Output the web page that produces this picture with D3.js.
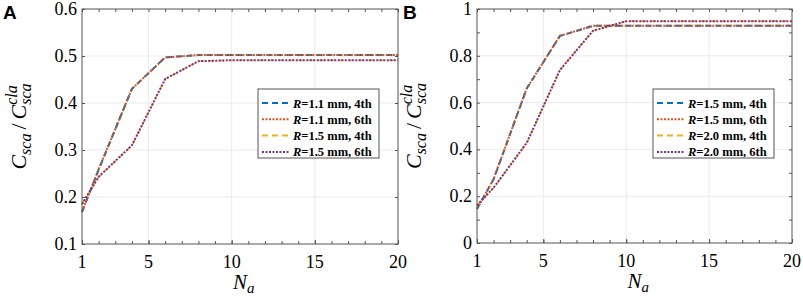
<!DOCTYPE html>
<head>
  <meta charset="utf-8">
  <script src="https://cdn.jsdelivr.net/npm/d3@7/dist/d3.min.js"></script>
  <style>
    body { margin: 0; background: #fff; }
    svg { display: block; }
    .serif { font-family: "Liberation Serif", "Times New Roman", serif; }
    .sans { font-family: "Liberation Sans", Arial, sans-serif; }
  </style>
</head>
<body>
<script>
// sample points (number of atoms N_a)
const n_atoms = [1, 2, 4, 6, 8, 10, 12, 14, 16, 18, 20]

// panel A
const a_r11_4th = [0.168, 0.258, 0.430, 0.497, 0.502, 0.502, 0.502, 0.502, 0.502, 0.502, 0.502]
const a_r11_6th = [0.169, 0.259, 0.430, 0.497, 0.502, 0.502, 0.502, 0.502, 0.502, 0.502, 0.502]
const a_r15_4th = [0.184, 0.243, 0.309, 0.451, 0.489, 0.491, 0.491, 0.491, 0.491, 0.491, 0.491]
const a_r15_6th = [0.185, 0.243, 0.310, 0.451, 0.489, 0.491, 0.491, 0.491, 0.491, 0.491, 0.491]
const a_labels = ['1.1 mm, 4th', '1.1 mm, 6th', '1.5 mm, 4th', '1.5 mm, 6th']

// panel B
const b_r15_4th = [0.145, 0.272, 0.660, 0.885, 0.928, 0.928, 0.928, 0.928, 0.928, 0.928, 0.928]
const b_r15_6th = [0.146, 0.273, 0.661, 0.885, 0.928, 0.928, 0.928, 0.928, 0.928, 0.928, 0.928]
const b_r20_4th = [0.160, 0.236, 0.427, 0.739, 0.907, 0.948, 0.948, 0.948, 0.948, 0.948, 0.948]
const b_r20_6th = [0.161, 0.236, 0.428, 0.739, 0.907, 0.948, 0.948, 0.948, 0.948, 0.948, 0.948]
const b_labels = ['1.5 mm, 4th', '1.5 mm, 6th', '2.0 mm, 4th', '2.0 mm, 6th']

const x_ticks = [1, 5, 10, 15, 20]
const a_y_ticks = [0.1, 0.2, 0.3, 0.4, 0.5, 0.6]
const b_y_ticks = [0, 0.2, 0.4, 0.6, 0.8, 1]

const colors = ['#0072BD', '#D95319', '#EDB120', '#7E2F8E']
const dashes = ['6,4', '2,1.5', '6,4', '2,1.5']
const widths = [2, 2, 1.6, 2]

const W = 803, H = 301
const svg = d3.select('body').append('svg').attr('width', W).attr('height', H)

function panel({ left, right, top, bottom, ydomain, yticks, yminor, yfmt, series, labels, letter, letter_x, legend_x }) {
  const x = d3.scaleLinear().domain([1, 20]).range([left, right])
  const y = d3.scaleLinear().domain(ydomain).range([bottom, top])
  const g = svg.append('g')

  // grid
  g.append('g').selectAll('line').data(x_ticks.slice(1, -1)).join('line')
    .attr('x1', d => x(d)).attr('x2', d => x(d)).attr('y1', top).attr('y2', bottom)
    .attr('stroke', '#e6e6e6').attr('stroke-width', 0.8)
  g.append('g').selectAll('line').data(yticks.slice(1, -1)).join('line')
    .attr('y1', d => y(d)).attr('y2', d => y(d)).attr('x1', left).attr('x2', right)
    .attr('stroke', '#e6e6e6').attr('stroke-width', 0.8)

  // axes, ticks inward on all sides
  const tick_style = a => a.call(s => s.select('.domain').remove())
    .call(s => s.selectAll('.tick line').attr('stroke', '#555'))
  const minor_x = d3.range(1, 21)
  g.append('g').attr('transform', `translate(0,${bottom})`)
    .call(d3.axisTop(x).tickValues(minor_x).tickSize(3).tickFormat(''))
    .call(tick_style)
  g.append('g').attr('transform', `translate(0,${top})`)
    .call(d3.axisBottom(x).tickValues(minor_x).tickSize(3).tickFormat(''))
    .call(tick_style)
  g.append('g').attr('transform', `translate(0,${bottom})`)
    .call(d3.axisTop(x).tickValues(x_ticks).tickSize(4).tickFormat(''))
    .call(tick_style)
  g.append('g').attr('transform', `translate(${left},0)`)
    .call(d3.axisRight(y).tickValues(yminor).tickSize(3).tickFormat(''))
    .call(tick_style)
  g.append('g').attr('transform', `translate(${right},0)`)
    .call(d3.axisLeft(y).tickValues(yminor).tickSize(3).tickFormat(''))
    .call(tick_style)

  // tick labels
  g.append('g').selectAll('text').data(x_ticks).join('text')
    .attr('class', 'serif')
    .attr('x', d => x(d)).attr('y', bottom + 24)
    .attr('text-anchor', 'middle').attr('font-size', 18)
    .text(d => d)
  g.append('g').selectAll('text').data(yticks).join('text')
    .attr('class', 'serif')
    .attr('x', left - 5).attr('y', d => y(d) + 6)
    .attr('text-anchor', 'end').attr('font-size', 18)
    .text(yfmt)

  // series
  const line = d3.line().x((d, i) => x(n_atoms[i])).y(d => y(d))
  series.forEach((s, i) => {
    g.append('path').datum(s).attr('d', line)
      .attr('fill', 'none').attr('stroke', colors[i]).attr('stroke-width', widths[i])
      .attr('stroke-dasharray', dashes[i])
  })

  // box
  g.append('rect').attr('x', left).attr('y', top).attr('width', right - left).attr('height', bottom - top)
    .attr('fill', 'none').attr('stroke', '#555').attr('stroke-width', 1)

  // legend
  const lg = g.append('g').attr('transform', `translate(${legend_x},89)`)
  lg.append('rect').attr('width', 121).attr('height', 69)
    .attr('fill', '#fff').attr('stroke', '#555').attr('stroke-width', 1)
  labels.forEach((lab, i) => {
    const ly = 14 + i * 16.3
    lg.append('line').attr('x1', 4).attr('x2', 32).attr('y1', ly).attr('y2', ly)
      .attr('stroke', colors[i]).attr('stroke-width', 2).attr('stroke-dasharray', dashes[i])
    const t = lg.append('text').attr('class', 'serif').attr('x', 35).attr('y', ly + 4.5)
      .attr('font-size', 12.5).attr('font-weight', 'bold')
    t.append('tspan').attr('font-style', 'italic').text('R')
    t.append('tspan').text('=' + lab)
  })

  // x title
  const xt = g.append('text').attr('class', 'serif').attr('x', (left + right) / 2 - 7).attr('y', bottom + 45)
    .attr('font-size', 21).attr('font-style', 'italic')
  xt.append('tspan').text('N')
  xt.append('tspan').attr('font-size', 15).attr('dy', 4).text('a')

  // y title, built piece by piece in a rotated group
  const yt = g.append('g').attr('transform', `translate(${left - 56},${(top + bottom) / 2}) rotate(-90)`)
  const parts = []
  let cx = 0
  const piece = (txt, size, dy, italic = true, advance = true) => {
    const t = yt.append('text').attr('class', 'serif').attr('x', cx).attr('y', dy)
      .attr('font-size', size)
      .attr('font-style', italic ? 'italic' : 'normal').text(txt)
    parts.push(t)
    const w = t.node().getComputedTextLength()
    if (advance) cx += w
    return w
  }
  piece('C', 22, 0)
  piece('sca', 16, 5)
  cx += 4
  piece('/', 22, 0, false)
  cx += 4
  piece('C', 22, 0)
  const sub_x = cx
  piece('cla', 16, -9, true, false)
  cx = sub_x
  piece('sca', 16, 5)
  parts.forEach(t => t.attr('x', +t.attr('x') - cx / 2))

  // panel letter
  svg.append('text').attr('class', 'sans').attr('x', letter_x).attr('y', 19)
    .attr('font-weight', 'bold').attr('font-size', 19)
    .text(letter)
}

panel({
  left: 82, right: 398, top: 9, bottom: 244,
  ydomain: [0.1, 0.6], yticks: a_y_ticks, yminor: a_y_ticks, yfmt: d3.format('.1f'),
  series: [a_r11_4th, a_r11_6th, a_r15_4th, a_r15_6th], labels: a_labels,
  letter: 'A', letter_x: 3, legend_x: 258,
})

panel({
  left: 477, right: 792, top: 9, bottom: 243,
  ydomain: [0, 1], yticks: b_y_ticks, yminor: d3.range(0, 1.01, 0.1), yfmt: d => d === 0 || d === 1 ? d : d3.format('.1f')(d),
  series: [b_r15_4th, b_r15_6th, b_r20_4th, b_r20_6th], labels: b_labels,
  letter: 'B', letter_x: 403, legend_x: 653,
})
</script>
</body>
